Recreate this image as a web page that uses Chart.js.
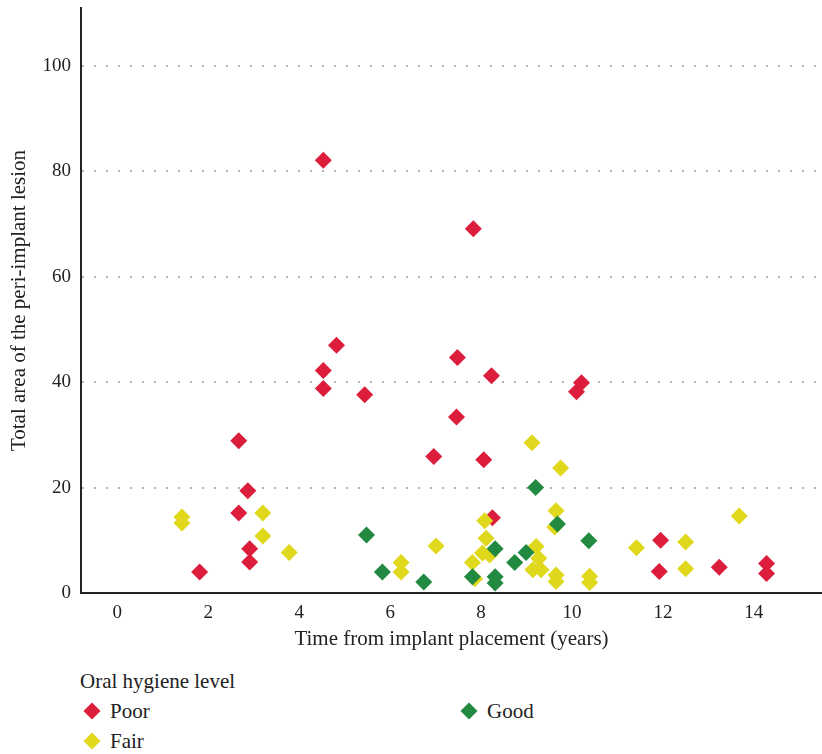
<!DOCTYPE html>
<html>
<head>
<meta charset="utf-8">
<script src="https://cdn.jsdelivr.net/npm/chart.js@4/dist/chart.umd.min.js"></script>
<style>
  html, body { margin: 0; padding: 0; background: #fff; }
  body { width: 822px; height: 754px; position: relative; overflow: hidden; font-family: 'Liberation Serif', serif; color: #222; }
  #wrap { position: absolute; left: 0; top: 0; width: 822px; height: 660px; }
  .legend-title { position: absolute; left: 80px; top: 669px; font-size: 21px; }
  .item { position: absolute; font-size: 21px; line-height: 24px; }
  .item i { position: absolute; left: -24px; top: 6px; width: 12px; height: 12px; transform: rotate(45deg); }
</style>
</head>
<body>
<div id="wrap"><canvas id="scatterChart"></canvas></div>

<div class="legend-title">Oral hygiene level</div>
<div class="item" style="left:110px;top:699px"><i style="background:#dc1e3c"></i>Poor</div>
<div class="item" style="left:487px;top:699px"><i style="background:#228a40"></i>Good</div>
<div class="item" style="left:110px;top:729px"><i style="background:#e0d81c"></i>Fair</div>

<script>
// ---- data (years, lesion area) ----
const poorPts = [
  [1.81, 4.0], [2.67, 28.9], [2.87, 19.4], [2.67, 15.2], [2.91, 8.4], [2.91, 5.9],
  [4.53, 82.1], [4.53, 42.2], [4.53, 38.8], [4.82, 47.0], [5.44, 37.6], [6.96, 25.9],
  [7.46, 33.4], [7.48, 44.7], [7.83, 69.1], [8.06, 25.3], [8.23, 41.2], [8.25, 14.3],
  [10.1, 38.2], [10.21, 39.9], [11.92, 4.1], [11.95, 10.0], [13.24, 4.9], [14.28, 5.6], [14.28, 3.7]
]
const fairPts = [
  [1.42, 14.4], [1.42, 13.3], [3.2, 15.2], [3.2, 10.8], [3.78, 7.7], [6.24, 5.8], [6.24, 4.0],
  [7.01, 8.9], [7.81, 5.8], [7.86, 2.7], [8.03, 7.6], [8.19, 7.2], [8.08, 13.7], [8.11, 10.4],
  [9.12, 28.5], [9.21, 8.8], [9.27, 6.6], [9.14, 4.4], [9.32, 4.4], [9.65, 15.6], [9.62, 12.5],
  [9.65, 3.4], [9.65, 2.2], [9.75, 23.7], [10.39, 3.2], [10.39, 2.0], [11.42, 8.6],
  [12.5, 9.7], [12.5, 4.6], [13.68, 14.6]
]
const goodPts = [
  [5.48, 11.0], [5.83, 4.0], [6.74, 2.1], [7.81, 3.1], [8.31, 8.4], [8.31, 3.1], [8.31, 1.9],
  [8.74, 5.8], [8.99, 7.7], [9.2, 20.0], [9.68, 13.1], [10.37, 9.9]
]
const xTicks = [0, 2, 4, 6, 8, 10, 12, 14]
const yTicks = [0, 20, 40, 60, 80, 100]

const FONT = 'Liberation Serif'
const toXY = arr => arr.map(([x, y]) => ({ x, y }))

function series(label, pts, color) {
  return {
    label, data: toXY(pts),
    pointStyle: 'rectRot', pointRadius: 8.5, pointHoverRadius: 8.5,
    backgroundColor: color, borderWidth: 0, clip: false,
  }
}

// drop the label overhang padding so the plot box runs to the edges like the original
function noEdgePad(s) {
  s.paddingTop = 0; s.paddingBottom = 0; s.paddingLeft = 0; s.paddingRight = 0
}

new Chart(document.getElementById('scatterChart'), {
  type: 'scatter',
  data: {
    // first dataset is painted on top
    datasets: [
      series('Good', goodPts, '#228a40'),
      series('Fair', fairPts, '#e0d81c'),
      series('Poor', poorPts, '#dc1e3c'),
    ]
  },
  options: {
    responsive: true, maintainAspectRatio: false, animation: false,
    layout: { autoPadding: false, padding: { top: 8, left: 0, right: 0, bottom: 0 } },
    plugins: { legend: { display: false }, tooltip: { enabled: false } },
    scales: {
      x: {
        min: -0.8, max: 15.5,
        afterBuildTicks: s => { s.ticks = xTicks.map(v => ({ value: v })) },
        afterFit: s => { s.height = 67; noEdgePad(s) },
        grid: { display: false, drawTicks: false },
        border: { color: '#222', width: 2 },
        ticks: { color: '#222', padding: 9, font: { family: FONT, size: 19 } },
        title: { display: true, text: 'Time from implant placement (years)', color: '#222',
                 padding: { top: 4, bottom: 8 }, font: { family: FONT, size: 21 } },
      },
      y: {
        min: 0, max: 111,
        afterBuildTicks: s => { s.ticks = yTicks.map(v => ({ value: v })) },
        afterFit: s => { s.width = 81; noEdgePad(s) },
        grid: {
          drawTicks: false, lineWidth: 2,
          color: c => c.tick && c.tick.value === 0 ? 'rgba(0,0,0,0)' : '#b4b4b4',
        },
        border: { color: '#222', width: 2, dash: [2, 10] },
        ticks: { color: '#222', padding: 10, font: { family: FONT, size: 19 } },
        title: { display: true, text: 'Total area of the peri-implant lesion', color: '#222',
                 padding: { top: 7, bottom: 4 }, font: { family: FONT, size: 21 } },
      },
    },
  },
})
</script>
</body>
</html>
